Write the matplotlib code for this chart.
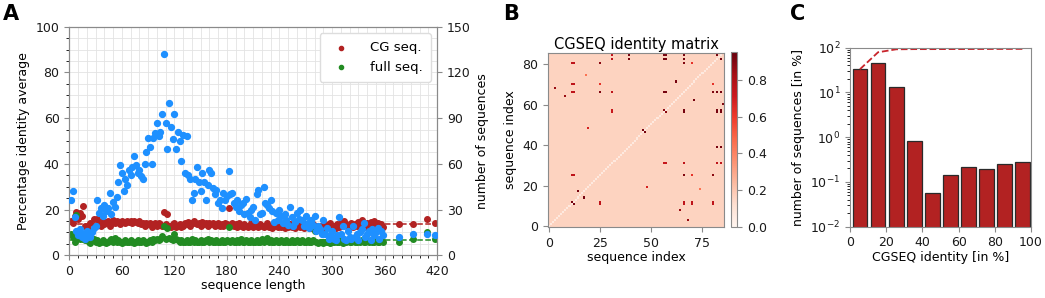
import numpy as np
import matplotlib
matplotlib.use("Agg")
import matplotlib.pyplot as plt
from matplotlib.ticker import MultipleLocator

# ---- panel A: identity average vs sequence length ----
seq_len = [
    2, 4, 6, 8, 10, 12, 14, 16, 18, 20, 22, 24, 26, 28, 30, 32, 34, 36, 38, 40,
    42, 44, 46, 48, 50, 52, 54, 56, 58, 60, 62, 64, 66, 68, 70, 72, 74, 76, 78, 80,
    82, 84, 86, 88, 90, 92, 94, 96, 98, 100, 102, 104, 106, 108, 110, 112, 114, 116, 118, 120,
    122, 124, 126, 128, 130, 132, 134, 136, 138, 140, 142, 144, 146, 148, 150, 152, 154, 156, 158, 160,
    162, 164, 166, 168, 170, 172, 174, 176, 178, 180, 182, 184, 186, 188, 190, 192, 194, 196, 198, 200,
    202, 204, 206, 208, 210, 212, 214, 216, 218, 220, 222, 224, 226, 228, 230, 232, 234, 236, 238, 240,
    242, 244, 246, 248, 250, 252, 254, 256, 258, 260, 262, 264, 266, 268, 270, 272, 274, 276, 278, 280,
    282, 284, 286, 288, 290, 292, 294, 296, 298, 300, 302, 304, 306, 308, 310, 312, 314, 316, 318, 320,
    322, 324, 326, 328, 330, 332, 334, 336, 338, 340, 342, 344, 346, 348, 350, 352, 354, 356, 358,
    377, 393, 409, 418,
]
cg_identity = [
    15, 14, 17, 19, 16, 18.5, 17, 21.5, 13, 12, 11, 14, 10.5, 16, 13, 16, 14, 13, 15, 13.5,
    14.5, 15, 13, 14, 15.5, 14, 15, 14.5, 13.5, 15, 14.5, 14, 15, 14.5, 15, 14, 15, 14.5, 14, 15,
    13.5, 14, 13, 14, 13.5, 14, 12.5, 13.5, 14, 13, 14, 13.5, 13, 19, 13.5, 18, 13, 12.5, 13.5, 14,
    12.5, 13, 13.5, 12.5, 13, 14, 13.5, 14.5, 13, 14, 15, 14, 13.5, 14, 13, 14.5, 13.5, 14, 13, 14,
    13.5, 14, 13, 13.5, 14, 13, 13.5, 13, 14, 13.5, 20.5, 13, 14, 13, 13.5, 12.5, 14, 13, 12.5, 13.5,
    13, 12.5, 13, 14, 12.5, 13.5, 13, 12.5, 13.5, 13, 12.5, 13, 14, 12.5, 13, 12, 13.5, 13, 12.5, 13,
    12.5, 13.5, 12, 13, 12.5, 13.5, 12.5, 13, 12, 13, 14, 12.5, 13, 12, 13.5, 12.5, 13, 12, 13.5, 12.5,
    13, 12, 12.5, 13, 12, 13.5, 12.5, 13, 14, 12.5, 13, 12, 13.5, 12.5, 14, 13, 15, 13.5, 12.5, 13,
    14, 12.5, 13.5, 13, 14.5, 13, 15.5, 13, 12.5, 14, 13, 14.5, 13, 15, 12.5, 14, 13, 13.5, 12.5,
    13.5, 13.5, 16, 14,
]
full_identity = [
    9.5, 8, 6, 17.5, 7.5, 7, 8, 7, 6.5, 7, 6, 5.5, 6.5, 7, 6, 6.5, 5.5, 6, 6.5, 6,
    5.5, 6, 6.5, 7, 6, 7.5, 6, 6.5, 6, 5.5, 6, 6.5, 6, 6, 6.5, 6, 5.5, 6, 6.5, 6,
    6, 6.5, 6, 5.5, 6, 6.5, 6, 7, 6.5, 7, 6.5, 7, 8.5, 13, 7, 12, 7.5, 7, 6.5, 9.5,
    7, 6.5, 6, 6.5, 6, 6, 6.5, 6, 6, 7, 6, 6.5, 6, 6, 6.5, 6, 6, 6.5, 7, 6,
    6.5, 6, 6, 6.5, 6, 6, 6.5, 6, 6, 6.5, 12.5, 6, 6.5, 6, 6, 6.5, 6, 7, 6, 6,
    6.5, 6, 6, 6.5, 6, 6, 6.5, 6, 6, 7, 6, 6.5, 7.5, 6, 6.5, 6, 6, 6.5, 6, 6,
    6.5, 6, 6, 6.5, 6, 6, 6.5, 6, 6, 6.5, 6, 6, 6.5, 6, 6, 6.5, 6, 6, 6.5, 10.5,
    6, 5.5, 6, 6, 5.5, 6, 6, 6.5, 5.5, 6, 6, 6.5, 6, 6, 6.5, 5.5, 6, 6, 6.5, 6,
    6, 6.5, 6, 6, 6.5, 6, 6.5, 6, 6, 6.5, 6, 6.5, 6, 6, 6.5, 6, 6, 6.5, 6,
    6, 7, 10, 7,
]
n_sequences = [
    36, 42, 25, 16, 13, 17, 12, 14, 11, 16, 13, 12, 15, 18, 19, 36, 28, 31, 26, 33,
    29, 31, 41, 27, 35, 32, 38, 48, 59, 54, 42, 50, 46, 56, 53, 58, 65, 59, 54, 56,
    52, 50, 60, 68, 77, 71, 60, 77, 80, 87, 78, 81, 93, 132, 87, 70, 100, 84, 76, 93,
    70, 81, 75, 62, 79, 54, 78, 53, 50, 36, 41, 50, 58, 48, 42, 54, 48, 36, 46, 56,
    54, 44, 40, 43, 34, 36, 31, 41, 36, 39, 55, 40, 41, 34, 32, 36, 29, 33, 34, 27,
    37, 28, 25, 30, 32, 23, 40, 43, 27, 28, 45, 34, 33, 31, 36, 29, 22, 28, 23, 30,
    26, 21, 27, 23, 20, 32, 25, 19, 22, 28, 24, 30, 23, 19, 26, 21, 18, 23, 20, 26,
    16, 19, 17, 14, 23, 14, 18, 11, 13, 16, 11, 10, 13, 25, 14, 19, 11, 10, 16, 12,
    11, 19, 12, 14, 10, 15, 17, 21, 12, 14, 16, 10, 17, 13, 15, 18, 11, 16, 13,
    12, 14, 14, 13,
]
cg_fit = 13.6
full_fit = 6.7

# ---- panel B: CGSEQ identity matrix (symmetric) ----
n_cgseq = 86
matrix_background = 0.16
matrix_diagonal = 0.07
# (i, j, identity) for the high-identity pairs, upper triangle
high_pairs = [
    (11, 12, 0.92), (11, 25, 0.75), (12, 25, 0.75), (11, 66, 0.75), (12, 66, 0.75),
    (11, 70, 0.75), (12, 70, 0.75), (11, 80, 0.75), (12, 80, 0.75),
    (25, 66, 0.9), (25, 70, 0.62), (25, 80, 0.88),
    (31, 66, 0.75), (31, 56, 0.72), (31, 57, 0.72), (31, 82, 0.75), (31, 84, 0.75),
    (39, 82, 0.92), (39, 84, 0.92),
    (56, 57, 0.88), (56, 66, 0.92), (57, 66, 0.92),
    (56, 82, 0.92), (56, 84, 0.92), (57, 82, 0.92), (57, 84, 0.92),
    (66, 82, 0.92), (66, 84, 0.92), (66, 80, 0.9), (70, 80, 0.62), (82, 84, 0.92),
    (3, 68, 0.85), (8, 64, 0.85), (14, 17, 0.92), (18, 74, 0.45), (19, 48, 0.68),
    (46, 47, 0.92), (62, 71, 0.92), (60, 85, 0.9),
]

# ---- panel C: distribution of CGSEQ identity ----
identity_bins = [5.5, 15.5, 25.5, 35.5, 45.5, 55.5, 65.5, 75.5, 85.5, 95.5]
pct_sequences = [33, 46, 13, 0.82, 0.057, 0.14, 0.22, 0.195, 0.25, 0.275]

RED = "#b22222"
GREEN = "#228b22"
BLUE = "#1e90ff"
SPINE = "#8a8a8a"

plt.rcParams["font.family"] = "DejaVu Sans"
plt.rcParams["font.size"] = 9


def style_axes(ax):
    for s in ax.spines.values():
        s.set_color(SPINE)
    ax.tick_params(colors=SPINE, labelcolor="#1a1a1a", labelsize=9)


fig = plt.figure(figsize=(10.45, 2.98), dpi=100)

# panel A
axA = fig.add_axes([0.0663, 0.1433, 0.352, 0.767])
axA.plot([0, 420], [cg_fit, cg_fit], ls="--", color=RED, lw=1.1, zorder=1)
axA.plot([0, 420], [full_fit, full_fit], ls="--", color=GREEN, lw=1.1, zorder=1)
axA.scatter(seq_len, cg_identity, s=16, color=RED, label="CG seq.", zorder=2)
axA.scatter(seq_len, full_identity, s=16, color=GREEN, label="full seq.", zorder=2)
axA.set_xlim(0, 420)
axA.set_ylim(0, 100)
axA.xaxis.set_major_locator(MultipleLocator(60))
axA.xaxis.set_minor_locator(MultipleLocator(10))
axA.yaxis.set_major_locator(MultipleLocator(20))
axA.yaxis.set_minor_locator(MultipleLocator(5))
axA.grid(which="both", color="#e3e3e3", lw=0.6)
axA.set_axisbelow(True)
axA.set_xlabel("sequence length", labelpad=1)
axA.set_ylabel("Percentage identity average")
style_axes(axA)
axA.legend(loc="upper right", fontsize=9.5, markerscale=0.75, handletextpad=1.2,
           borderpad=0.6, framealpha=1, edgecolor="#dddddd")

axA2 = axA.twinx()
axA2.scatter(seq_len, n_sequences, s=18, color=BLUE, zorder=3)
axA2.set_ylim(0, 150)
axA2.yaxis.set_major_locator(MultipleLocator(30))
axA2.set_ylabel("number of sequences")
style_axes(axA2)

# panel B
mat = np.full((n_cgseq, n_cgseq), matrix_background)
np.fill_diagonal(mat, matrix_diagonal)
for i, j, v in high_pairs:
    mat[i, j] = v
    mat[j, i] = v
axB = fig.add_axes([0.5244, 0.237, 0.1684, 0.586])
im = axB.imshow(mat, cmap="Reds", vmin=0, vmax=0.95, origin="lower",
                interpolation="nearest", aspect="auto")
axB.set_xticks([0, 25, 50, 75])
axB.set_yticks([0, 20, 40, 60, 80])
axB.set_xlabel("sequence index", labelpad=1)
axB.set_ylabel("sequence index")
axB.set_title("CGSEQ identity matrix", fontsize=10.5, pad=3)
style_axes(axB)
cax = fig.add_axes([0.6995, 0.238, 0.0062, 0.587])
cb = fig.colorbar(im, cax=cax, ticks=[0, 0.2, 0.4, 0.6, 0.8])
cb.outline.set_edgecolor(SPINE)
cax.tick_params(colors=SPINE, labelcolor="#1a1a1a", labelsize=9)

# panel C
axC = fig.add_axes([0.8134, 0.2393, 0.1732, 0.6007])
axC.bar(identity_bins, pct_sequences, width=8.2, color=RED, edgecolor="#2a2a2a", lw=0.9)
axC.plot(identity_bins, np.cumsum(pct_sequences), ls="--", color="#c8242b", lw=1.3)
axC.set_yscale("log")
axC.set_ylim(1e-2, 1e2)
axC.set_xlim(0, 100)
axC.set_xticks([0, 20, 40, 60, 80, 100])
axC.set_xlabel("CGSEQ identity [in %]", labelpad=1)
axC.set_ylabel("number of sequences [in %]")
style_axes(axC)

fig.text(0.003, 0.985, "A", fontsize=15, fontweight="bold", va="top")
fig.text(0.481, 0.985, "B", fontsize=15, fontweight="bold", va="top")
fig.text(0.756, 0.985, "C", fontsize=15, fontweight="bold", va="top")

fig.savefig("out.png", dpi=100)
